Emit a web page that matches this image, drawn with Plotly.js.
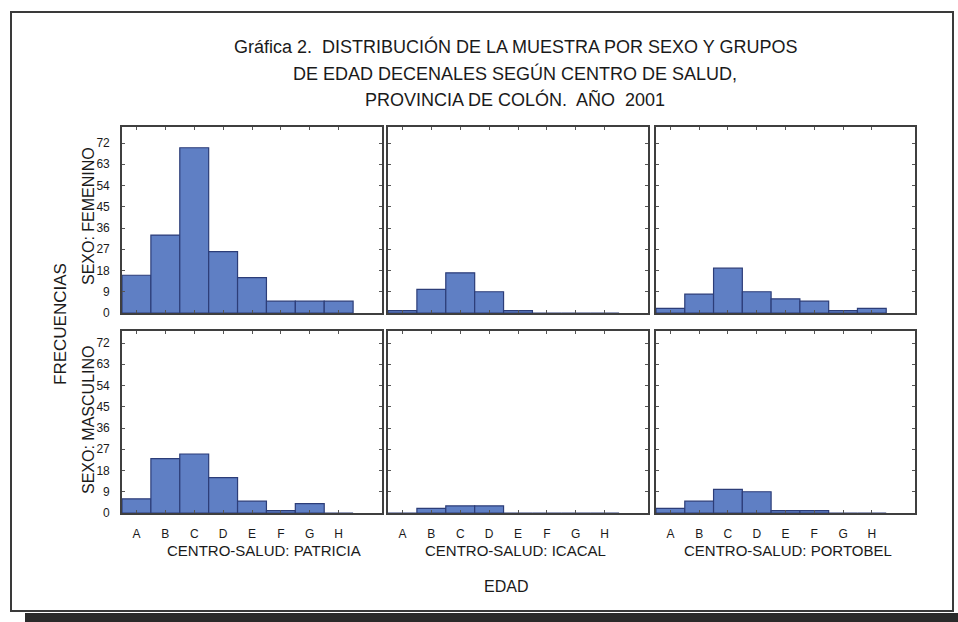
<!DOCTYPE html>
<html>
<head>
<meta charset="utf-8">
<script src="https://cdn.plot.ly/plotly-3.0.1.min.js"></script>
<style>html,body{margin:0;padding:0;background:#fff;}#chart{width:958px;height:622px;}</style>
</head>
<body>
<div id="chart"></div>
<script>
// ---- data ----
const categories = ['A', 'B', 'C', 'D', 'E', 'F', 'G', 'H'];
const centros = ['CENTRO-SALUD: PATRICIA', 'CENTRO-SALUD: ICACAL', 'CENTRO-SALUD: PORTOBEL'];
const sexos = ['SEXO: FEMENINO', 'SEXO: MASCULINO'];
const femPatricia = [16, 33, 70, 26, 15, 5, 5, 5];
const femIcacal = [1, 10, 17, 9, 1, 0, 0, 0];
const femPortobel = [2, 8, 19, 9, 6, 5, 1, 2];
const mascPatricia = [6, 23, 25, 15, 5, 1, 4, 0];
const mascIcacal = [0, 2, 3, 3, 0, 0, 0, 0];
const mascPortobel = [2, 5, 10, 9, 1, 1, 0, 0];
const yTicks = [0, 9, 18, 27, 36, 45, 54, 63, 72];
const titleLines = [
  'Gráfica 2.  DISTRIBUCIÓN DE LA MUESTRA POR SEXO Y GRUPOS',
  'DE EDAD DECENALES SEGÚN CENTRO DE SALUD,',
  'PROVINCIA DE COLÓN.  AÑO  2001'
];
const xTitle = 'EDAD';
const yTitle = 'FRECUENCIAS';

// ---- layout helpers ----
const W = 958, H = 622;
const px = v => v / W;
const py = v => 1 - v / H;
const FONT = '"Liberation Sans", Arial, sans-serif';
const INK = '#1a1a1a';
const BAR = '#5f7fc4';
const BAR_LINE = '#2c3d78';

const colX = [[122, 382], [388, 648], [656, 915]];
const rowY = [[127, 313, 78.8], [331, 513, 77.1]]; // top, bottom, max value
const labelCenters = [264, 515, 788];
const sexoCenters = [216, 420];

const series = [femPatricia, femIcacal, femPortobel, mascPatricia, mascIcacal, mascPortobel];

const traces = [];
const layout = {
  width: W, height: H, autosize: false,
  margin: {l: 0, r: 0, t: 0, b: 0, pad: 0},
  paper_bgcolor: '#ffffff', plot_bgcolor: '#ffffff',
  showlegend: false, bargap: 0,
  font: {family: FONT, color: INK, size: 12},
  annotations: [], shapes: []
};

series.forEach((vals, i) => {
  const r = Math.floor(i / 3), c = i % 3;
  const n = i + 1;
  const xa = n === 1 ? 'xaxis' : 'xaxis' + n;
  const ya = n === 1 ? 'yaxis' : 'yaxis' + n;
  traces.push({
    type: 'bar', x: categories, y: vals,
    xaxis: 'x' + (n === 1 ? '' : n), yaxis: 'y' + (n === 1 ? '' : n),
    width: 1,
    marker: {color: BAR, line: {color: BAR_LINE, width: 1.2}},
    hoverinfo: 'x+y'
  });
  layout[xa] = {
    domain: [px(colX[c][0]), px(colX[c][1])],
    anchor: 'y' + (n === 1 ? '' : n),
    type: 'category', range: [-0.5, 8.5],
    showline: true, linecolor: '#3f3f3f', linewidth: 1.8, mirror: 'allticks',
    ticks: 'inside', ticklen: 3, tickcolor: '#555',
    showgrid: false, zeroline: false,
    showticklabels: r === 1,
    ticklabelstandoff: 9,
    tickfont: {family: FONT, size: 12, color: INK}
  };
  layout[ya] = {
    domain: [py(rowY[r][1]), py(rowY[r][0])],
    anchor: 'x' + (n === 1 ? '' : n),
    range: [0, rowY[r][2]],
    tickvals: yTicks,
    showline: true, linecolor: '#3f3f3f', linewidth: 1.8, mirror: 'allticks',
    ticks: 'inside', ticklen: 3, tickcolor: '#555',
    showgrid: false, zeroline: false,
    showticklabels: c === 0,
    ticklabelstandoff: 8,
    tickfont: {family: FONT, size: 12, color: INK}
  };
});

// title lines
const titleY = [46, 73, 100];
titleLines.forEach((t, k) => {
  layout.annotations.push({
    xref: 'paper', yref: 'paper', x: px(515), y: py(titleY[k]),
    xanchor: 'center', yanchor: 'middle', showarrow: false,
    text: t, font: {family: FONT, size: 18, color: INK}
  });
});

// centro labels under bottom panels
centros.forEach((t, c) => {
  layout.annotations.push({
    xref: 'paper', yref: 'paper', x: px(labelCenters[c]), y: py(550),
    xanchor: 'center', yanchor: 'middle', showarrow: false,
    text: t, font: {family: FONT, size: 15, color: INK}
  });
});

// sexo labels left of rows
sexos.forEach((t, r) => {
  layout.annotations.push({
    xref: 'paper', yref: 'paper', x: px(88), y: py(sexoCenters[r]),
    xanchor: 'center', yanchor: 'middle', showarrow: false, textangle: -90,
    text: t, font: {family: FONT, size: 16, color: INK}
  });
});

// axis titles
layout.annotations.push({
  xref: 'paper', yref: 'paper', x: px(506), y: py(586),
  xanchor: 'center', yanchor: 'middle', showarrow: false,
  text: xTitle, font: {family: FONT, size: 16, color: INK}
});
layout.annotations.push({
  xref: 'paper', yref: 'paper', x: px(60), y: py(324),
  xanchor: 'center', yanchor: 'middle', showarrow: false, textangle: -90,
  text: yTitle, font: {family: FONT, size: 17, color: INK}
});

// outer frame and bottom shadow (decoration)
layout.shapes.push({
  type: 'rect', xref: 'paper', yref: 'paper',
  x0: px(11), x1: px(953), y0: py(611), y1: py(12),
  line: {color: '#3a3a3a', width: 2}, fillcolor: 'rgba(0,0,0,0)', layer: 'below'
});
layout.shapes.push({
  type: 'rect', xref: 'paper', yref: 'paper',
  x0: px(25), x1: px(958), y0: py(622), y1: py(613),
  line: {width: 0}, fillcolor: '#2a2a2a', layer: 'below'
});

Plotly.newPlot('chart', traces, layout, {staticPlot: true, displayModeBar: false});
</script>
</body>
</html>
